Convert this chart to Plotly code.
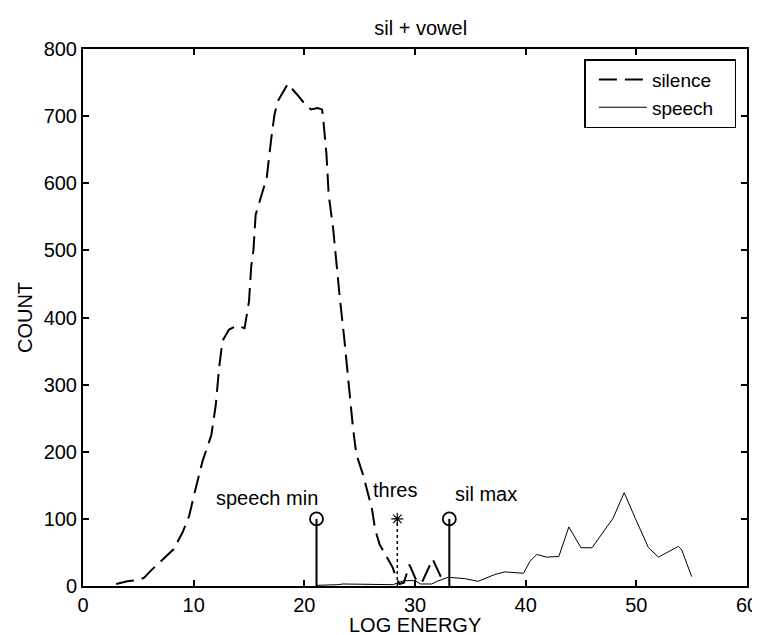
import plotly.graph_objects as go

# ---- data ----
silence_x = [3.0, 4.0, 5.0, 5.5, 6.2, 7.5, 8.2, 9.0, 9.6, 10.1, 10.8, 11.6, 12.0, 12.3, 12.6,
             13.2, 13.9, 14.6, 15.0, 15.2, 15.4, 15.6, 16.3, 16.6, 17.0, 17.3, 17.6, 18.5,
             19.3, 20.1, 20.6, 21.2, 21.6, 21.7, 22.0, 22.2, 22.6, 22.9, 23.2, 23.6, 24.0,
             24.4, 24.7, 25.3, 26.1, 26.4, 26.8, 28.0, 28.3, 28.6, 29.0, 29.5, 30.2, 30.7,
             31.6, 32.3, 33.0]
silence_y = [3, 7, 9, 12, 24, 44, 55, 80, 105, 140, 186, 225, 270, 325, 365,
             382, 388, 384, 424, 476, 500, 553, 590, 608, 665, 702, 722, 748,
             733, 717, 710, 712, 710, 697, 643, 583, 533, 479, 430, 370, 300,
             235, 196, 166, 116, 84, 62, 27, 12, 3, 5, 32, 5, 8,
             40, 15, 8]

speech_x = [21.1, 22.0, 23.0, 23.5, 25.4, 26.0, 27.0, 28.0, 28.5, 29.0, 30.0, 30.5, 31.0,
            31.5, 32.0, 33.0, 34.5, 35.7, 37.2, 38.1, 39.8, 40.4, 41.0, 41.9, 43.0, 43.9,
            45.0, 46.0, 47.9, 48.9, 49.9, 51.1, 52.0, 53.8, 54.1, 55.0]
speech_y = [1, 1, 2, 3, 3, 2, 2, 2, 5, 8, 8, 3, 3,
            3, 7, 13, 11, 7, 17, 21, 19, 37, 47, 43, 44, 88,
            57, 57, 101, 139, 101, 57, 43, 59, 54, 14]

stem_x = [21.1, 28.4, 33.1]
stem_y = [100, 100, 100]
stem_labels = ["speech min", "thres", "sil max"]
label_x = [16.6, 28.2, 36.4]
label_y = [131, 143, 137]

x_ticks = [0, 10, 20, 30, 40, 50, 60]
y_ticks = [0, 100, 200, 300, 400, 500, 600, 700, 800]

FONT = "Liberation Sans, Arial, sans-serif"
FS = 20
NB = "\u00a0"

fig = go.Figure()
fig.add_trace(go.Scatter(x=silence_x, y=silence_y, mode="lines", name="silence" + NB * 3,
                         line=dict(color="black", width=2, dash="18px,8px")))
fig.add_trace(go.Scatter(x=speech_x, y=speech_y, mode="lines", name="speech" + NB * 3,
                         line=dict(color="black", width=1)))

symbols = ["circle-open", "asterisk-open", "circle-open"]
stem_dash = ["solid", "dot", "solid"]
for i in range(len(stem_x)):
    fig.add_trace(go.Scatter(x=[stem_x[i], stem_x[i]], y=[0, stem_y[i]], mode="lines",
                             line=dict(color="black", width=2 if i != 1 else 1.5, dash=stem_dash[i]),
                             showlegend=False, hoverinfo="skip"))
    fig.add_trace(go.Scatter(x=[stem_x[i]], y=[stem_y[i]], mode="markers",
                             marker=dict(symbol=symbols[i], size=13 if i != 1 else 10,
                                         color="black", line=dict(width=1.8 if i != 1 else 1.2,
                                                                  color="black")),
                             showlegend=False, hoverinfo="skip"))
    fig.add_annotation(x=label_x[i], y=label_y[i], text=stem_labels[i], showarrow=False,
                       font=dict(family=FONT, size=FS, color="black"),
                       xanchor="center", yanchor="middle")

# x axis title placed just under the tick labels
fig.add_annotation(x=0.5, y=-(617 - 578) / 537, xref="paper", yref="paper",
                   text="LOG ENERGY", showarrow=False, xanchor="center", yanchor="middle",
                   font=dict(family=FONT, size=FS, color="black"))

axis_common = dict(showline=True, linecolor="black", linewidth=2, mirror="ticks",
                   ticks="inside", ticklen=6, tickwidth=1.5, tickcolor="black",
                   showgrid=False, zeroline=False,
                   tickfont=dict(family=FONT, size=FS, color="black"))

fig.update_xaxes(range=[0, 60], tickvals=x_ticks, ticktext=[str(v) for v in x_ticks],
                 **axis_common)
fig.update_yaxes(range=[0, 800], tickvals=y_ticks, ticktext=[str(v) for v in y_ticks],
                 title=dict(text="COUNT", font=dict(family=FONT, size=FS, color="black"),
                            standoff=6),
                 **axis_common)

fig.update_layout(
    width=760, height=635,
    margin=dict(l=75, r=10, t=41, b=57),
    paper_bgcolor="white", plot_bgcolor="white",
    title=dict(text="sil + vowel", x=0.543, xanchor="center", y=1 - 20 / 635, yanchor="middle",
               yref="container", font=dict(family=FONT, size=FS, color="black")),
    legend=dict(x=0.984, y=0.981, xanchor="right", yanchor="top",
                bgcolor="white", bordercolor="black", borderwidth=1.5,
                font=dict(family=FONT, size=19, color="black"),
                tracegroupgap=0, itemwidth=48, indentation=8),
    showlegend=True,
)

fig.write_html("out.html")
